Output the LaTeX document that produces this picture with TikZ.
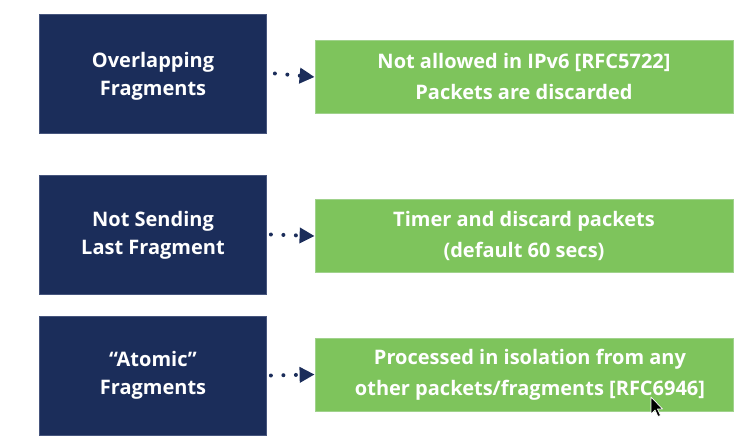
\documentclass[tikz,border=0pt]{standalone}
\usepackage{fontspec}
\setmainfont{Open Sans}
\usetikzlibrary{arrows.meta}
\definecolor{navy}{RGB}{27,45,90}
\definecolor{navyedge}{RGB}{70,85,125}
\definecolor{leaf}{RGB}{126,196,92}
\definecolor{leafedge}{RGB}{160,210,140}
\begin{document}
\begin{tikzpicture}[x=1pt,y=1pt,
  darkbox/.style={draw=navyedge,line width=0.8pt,fill=navy,
    minimum width=227pt,minimum height=119pt,inner sep=0pt},
  darktext/.style={text=white,inner sep=0pt,align=center,
    font=\fontsize{20}{28}\selectfont\bfseries},
  greenbox/.style={draw=leafedge,line width=0.8pt,fill=leaf,text=white,
    minimum width=418pt,minimum height=73pt,inner sep=0pt,align=center,
    font=\fontsize{20}{31}\selectfont\bfseries},
  conn/.style={draw=navy,line width=4pt,line cap=round,
    dash pattern=on 0pt off 12.5pt,
    -{Triangle[length=15pt,width=15pt,sharp]}}]
\useasboundingbox (0,0) rectangle (746,-441);
\node[darkbox] (d1) at (153,-73.5) {};
\node[darkbox] (d2) at (153,-234.5) {};
\node[darkbox] (d3) at (153,-375.5) {};
\node[darktext] (t1) at ([yshift=-3pt]d1.center) {Overlapping\\Fragments};
\node[darktext] (t2) at ([yshift=-0.5pt]d2.center) {Not Sending\\Last Fragment};
\node[darktext] (t3) at (d3.center) {“Atomic”\\Fragments};
\node[greenbox] (g1) at (524,-76.5) {Not allowed in IPv6 [RFC5722]\\Packets are discarded};
\node[greenbox] (g2) at (524,-235.5) {Timer and discard packets\\(default 60 secs)};
\node[greenbox] (g3) at (524,-374.5) {\hspace*{12pt}Processed in isolation from any\\\hspace*{12pt}other packets/fragments [RFC6946]};
\draw[conn] ([xshift=8pt]d1.east) -- ([yshift=-0.5pt]g1.west);
\draw[conn] ([xshift=4pt]d2.east) -- ([yshift=-0.5pt]g2.west);
\draw[conn] ([xshift=4pt]d3.east) -- (g3.west);
% mouse pointer
\filldraw[fill=black,draw=white,line width=0.7pt,line join=round]
  (651,-397) -- (651,-414) -- (655,-410) -- (658,-416.5) -- (660.5,-415.5) -- (657.5,-409) -- (662.5,-409) -- cycle;
\end{tikzpicture}
\end{document}
